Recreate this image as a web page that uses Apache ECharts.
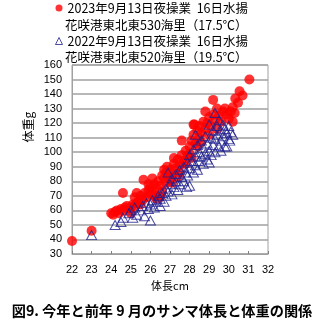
<!DOCTYPE html>
<html>
<head>
<meta charset="utf-8">
<script src="https://cdn.jsdelivr.net/npm/echarts@6/dist/echarts.min.js"></script>
<style>
  html, body { margin: 0; padding: 0; background: #fff; }
  #chart { width: 322px; height: 325px; }
</style>
</head>
<body>
<div id="chart"></div>
<script>
// Series names (legend first lines) and their second lines
const seriesNames = ['2023年9月13日夜操業  16日水揚', '2022年9月13日夜操業  16日水揚'];
const seriesSubLines = ['花咲港東北東530海里（17.5℃）', '花咲港東北東520海里（19.5℃）'];

// Axis settings
const xTicks = { min: 22, max: 32, step: 1 };
const yTicks = { min: 30, max: 160, step: 10 };
const xTitle = '体長cm';
const yTitle = '体重g';
const caption = '図9. 今年と前年 9 月のサンマ体長と体重の関係';

// 2023: [体長cm, 体重g]
const fish2023 = [
  [22.0, 39], [23.0, 46], [24.0, 58], [24.1, 57], [24.2, 59], [24.3, 60], [24.4, 58],
  [24.5, 61], [24.6, 60], [24.6, 72], [24.7, 62], [24.8, 63], [24.9, 61], [25.0, 58],
  [25.0, 62], [25.1, 64], [25.2, 69], [25.2, 63], [25.3, 65], [25.4, 66], [25.5, 64],
  [25.5, 70], [25.6, 67], [25.65, 81], [25.7, 72], [25.8, 69], [25.9, 74], [26.0, 71],
  [26.0, 76], [26.1, 73], [26.2, 70], [26.2, 78], [26.3, 75], [26.4, 80], [26.5, 77],
  [26.5, 69], [26.6, 73], [26.7, 82], [26.7, 88], [26.8, 79], [26.8, 86], [26.85, 90],
  [26.9, 84], [27.0, 81], [27.0, 88], [27.1, 85], [27.2, 92], [27.3, 89], [27.4, 95],
  [27.4, 83], [27.5, 91], [27.6, 108], [27.6, 98], [27.7, 94], [27.8, 101], [27.9, 97],
  [28.0, 104], [28.0, 99], [28.1, 108], [28.2, 119], [28.25, 119], [28.2, 112], [28.3, 106],
  [28.4, 115], [28.5, 110], [28.5, 118], [28.6, 113], [28.7, 121], [28.8, 128], [28.8, 116],
  [28.9, 120], [29.0, 124], [29.1, 118], [29.2, 136], [29.2, 126], [29.3, 122], [29.4, 130],
  [29.5, 125], [29.6, 121], [29.7, 128], [29.8, 130], [29.9, 126], [30.0, 123], [30.1, 128],
  [30.2, 121], [30.2, 131], [30.3, 127], [30.33, 137], [30.47, 134], [30.55, 142], [30.7, 139],
  [31.05, 150],
  [25.3, 72], [25.9, 78], [26.1, 82], [26.3, 68], [26.6, 84], [27.1, 79], [27.2, 96],
  [27.5, 86], [27.8, 92], [28.1, 96], [28.4, 104], [28.6, 107], [29.0, 112], [29.4, 116]
];

// 2022: [体長cm, 体重g]
const fish2022 = [
  [23.0, 43], [24.2, 50], [24.5, 52], [24.6, 55], [24.9, 58], [25.0, 60], [25.1, 55],
  [25.2, 62], [25.3, 57], [25.5, 60], [25.6, 63], [25.7, 56], [25.8, 65], [25.9, 61],
  [26.0, 53], [26.0, 64], [26.1, 67], [26.2, 62], [26.3, 66], [26.4, 70], [26.5, 63],
  [26.5, 68], [26.6, 72], [26.7, 66], [26.8, 70], [26.8, 75], [26.9, 73], [26.9, 86],
  [27.0, 78], [27.1, 71], [27.1, 82], [27.2, 76], [27.3, 85], [27.3, 80], [27.4, 74],
  [27.5, 88], [27.5, 78], [27.6, 83], [27.7, 90], [27.7, 80], [27.8, 86], [27.85, 76],
  [27.9, 93], [27.9, 84], [28.0, 77], [28.0, 98], [28.0, 89], [28.1, 94], [28.2, 86],
  [28.2, 102], [28.3, 112], [28.3, 97], [28.3, 91], [28.4, 105], [28.4, 88], [28.5, 100],
  [28.5, 94], [28.6, 108], [28.6, 97], [28.7, 103], [28.7, 92], [28.8, 111], [28.8, 99],
  [28.9, 106], [28.9, 95], [29.0, 119], [29.0, 101], [29.0, 93], [29.1, 110], [29.1, 98],
  [29.2, 115], [29.2, 105], [29.3, 127], [29.3, 109], [29.3, 100], [29.4, 118], [29.4, 112],
  [29.5, 104], [29.5, 122], [29.6, 115], [29.6, 108], [29.7, 111], [29.7, 119], [29.8, 104],
  [29.8, 116], [29.9, 113], [30.0, 109], [30.0, 118], [30.1, 114], [30.2, 112],
  [29.6, 101], [29.9, 104], [30.05, 108]
];

const FONT = '"Liberation Sans", "Noto Sans CJK JP", sans-serif';
const JP_FONT = '"Noto Sans CJK JP", sans-serif';
const RED = '#ff0000';
const NAVY = '#1f1f8f';

const chart = echarts.init(document.getElementById('chart'), null, { renderer: 'canvas' });

chart.setOption({
  animation: false,
  backgroundColor: '#fff',
  textStyle: { fontFamily: FONT },
  grid: {
    left: 72, right: 54, top: 65, bottom: 71,
    show: true, borderColor: '#a0a0a0', borderWidth: 1
  },
  legend: {
    orient: 'vertical',
    left: 53, top: 0,
    padding: 0,
    itemWidth: 7, itemHeight: 7,
    itemGap: 17,
    textStyle: { fontFamily: JP_FONT, fontSize: 12.5, color: '#000', lineHeight: 16 },
    data: [
      { name: seriesNames[0], icon: 'circle', itemStyle: { color: RED } },
      { name: seriesNames[1], icon: 'triangle', itemStyle: { color: 'none', borderColor: NAVY, borderWidth: 1 } }
    ]
  },
  xAxis: {
    type: 'value',
    min: xTicks.min, max: xTicks.max, interval: xTicks.step,
    name: xTitle, nameLocation: 'middle', nameGap: 25,
    nameTextStyle: { fontFamily: JP_FONT, fontSize: 11, color: '#000' },
    axisLine: { show: true, lineStyle: { color: '#a0a0a0' } },
    axisTick: { show: true, inside: true, length: 3, lineStyle: { color: '#808080' } },
    axisLabel: { fontSize: 11, color: '#000', margin: 10 },
    splitLine: { show: false }
  },
  yAxis: {
    type: 'value',
    min: yTicks.min, max: yTicks.max, interval: yTicks.step,
    axisLine: { show: true, lineStyle: { color: '#a0a0a0' } },
    axisTick: { show: false },
    axisLabel: { fontSize: 11, color: '#000', margin: 10 },
    splitLine: { show: true, lineStyle: { color: '#a0a0a0', width: 1.5 } }
  },
  graphic: [
    { type: 'text', x: 65, y: 25, style: { text: seriesSubLines[0], font: '12.5px ' + JP_FONT, fill: '#000', verticalAlign: 'middle' } },
    { type: 'text', x: 65, y: 57, style: { text: seriesSubLines[1], font: '12.5px ' + JP_FONT, fill: '#000', verticalAlign: 'middle' } },
    { type: 'text', x: 28, y: 127, rotation: Math.PI / 2, style: { text: yTitle, font: '12px ' + JP_FONT, fill: '#000', align: 'center', verticalAlign: 'middle' } },
    { type: 'text', x: 162, y: 311, style: { text: caption, font: 'bold 14.2px ' + JP_FONT, fill: '#000', align: 'center', verticalAlign: 'middle' } }
  ],
  series: [
    {
      name: seriesNames[0],
      type: 'scatter',
      data: fish2023,
      symbol: 'circle',
      symbolSize: 10,
      itemStyle: { color: RED },
      z: 2
    },
    {
      name: seriesNames[1],
      type: 'scatter',
      data: fish2022,
      symbol: 'triangle',
      symbolSize: [10, 9],
      itemStyle: { color: 'none', borderColor: NAVY, borderWidth: 1 },
      z: 3
    }
  ]
});
</script>
</body>
</html>
